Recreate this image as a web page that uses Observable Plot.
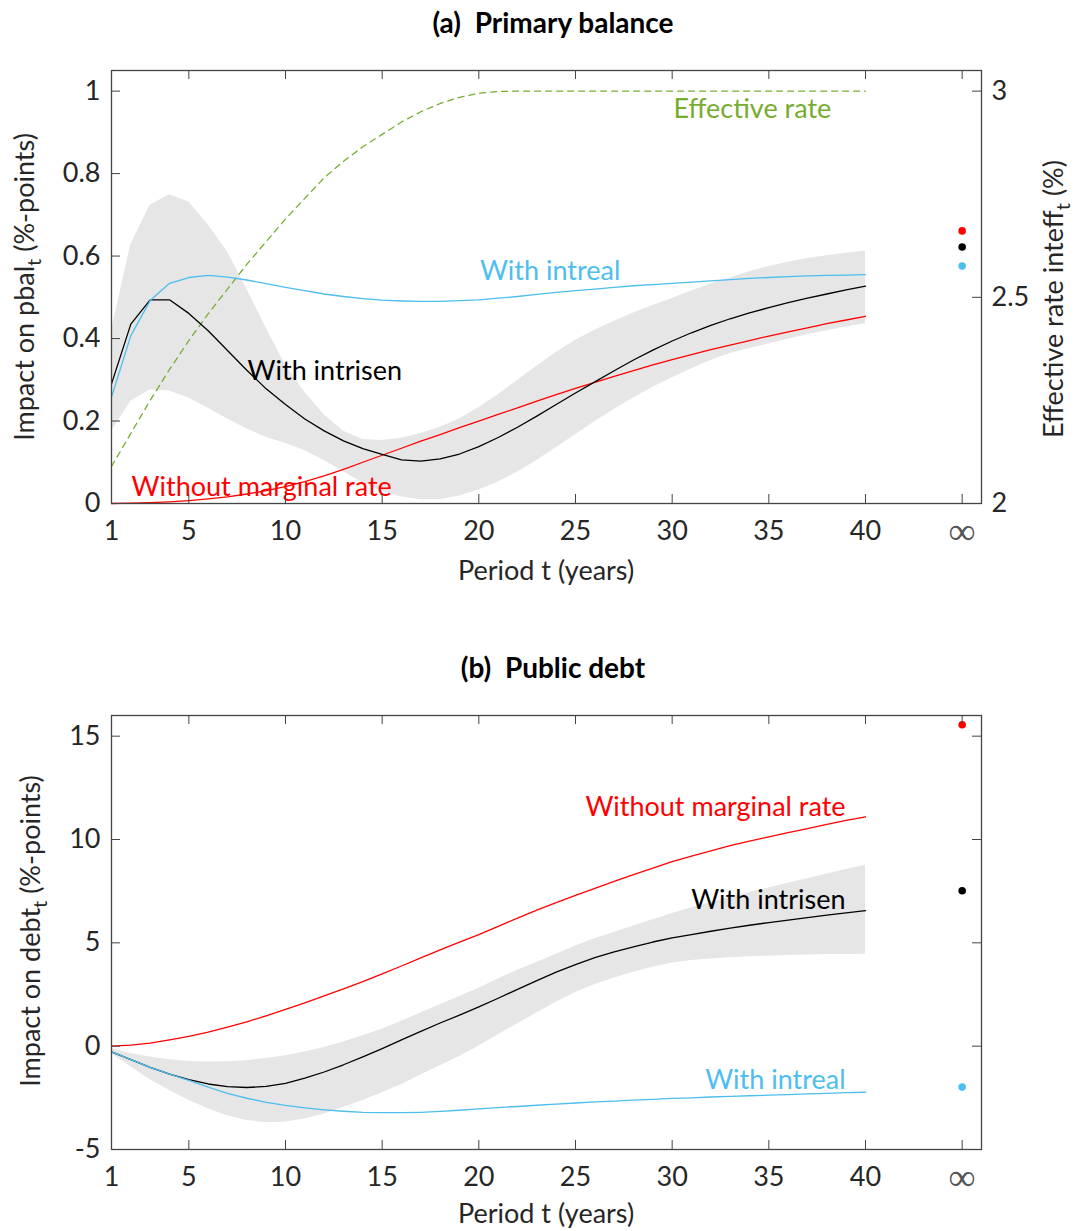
<!DOCTYPE html>
<html><head><meta charset="utf-8">
<script src="https://cdn.jsdelivr.net/npm/d3@7"></script>
<script src="https://cdn.jsdelivr.net/npm/@observablehq/plot@0.6"></script>
<style>
body{margin:0;background:#fff;}
#root{position:relative;width:1081px;height:1231px;overflow:hidden;font-family:Lato,sans-serif;}
.title{position:absolute;left:303px;width:500px;text-align:center;font-weight:bold;font-size:28px;white-space:pre;color:#000;line-height:1;}
.panel{position:absolute;left:0;}
</style></head><body><div id="root"></div><script>
// ---------- data ----------
const periods = d3.range(1, 41);
const infPos = 45;              // x position used for the "∞" column
const xTicks = [1, 5, 10, 15, 20, 25, 30, 35, 40];
const xTickLabels = ["1", "5", "10", "15", "20", "25", "30", "35", "40"];
const infLabel = "∞";

// (a) primary balance
const pbalIntrisen = [0.29,0.435,0.494,0.494,0.461,0.419,0.371,0.323,0.278,0.24,0.205,0.176,0.152,0.133,0.119,0.106,0.103,0.108,0.12,0.138,0.16,0.185,0.212,0.24,0.268,0.295,0.322,0.348,0.372,0.394,0.414,0.432,0.448,0.462,0.475,0.487,0.498,0.508,0.518,0.527];
const pbalNoMarginal = [0,0.001,0.002,0.004,0.007,0.011,0.016,0.023,0.031,0.041,0.053,0.067,0.083,0.1,0.117,0.134,0.151,0.167,0.184,0.2,0.216,0.232,0.248,0.264,0.279,0.294,0.308,0.322,0.336,0.349,0.361,0.373,0.384,0.395,0.406,0.416,0.426,0.436,0.445,0.454];
const pbalIntreal = [0.258,0.407,0.492,0.534,0.548,0.553,0.549,0.542,0.533,0.524,0.516,0.508,0.502,0.497,0.493,0.491,0.49,0.49,0.492,0.494,0.498,0.502,0.507,0.512,0.516,0.52,0.524,0.528,0.531,0.534,0.537,0.54,0.543,0.546,0.548,0.55,0.552,0.553,0.554,0.555];
const pbalLower = [0.175,0.248,0.276,0.273,0.256,0.231,0.205,0.181,0.16,0.146,0.128,0.104,0.077,0.05,0.03,0.016,0.009,0.009,0.018,0.033,0.052,0.076,0.104,0.135,0.167,0.198,0.228,0.256,0.282,0.305,0.327,0.347,0.364,0.376,0.387,0.398,0.409,0.419,0.428,0.436];
const pbalUpper = [0.42,0.628,0.723,0.749,0.731,0.676,0.61,0.52,0.425,0.335,0.27,0.215,0.175,0.155,0.153,0.158,0.17,0.185,0.205,0.232,0.264,0.298,0.333,0.366,0.396,0.42,0.442,0.462,0.48,0.497,0.515,0.532,0.547,0.562,0.575,0.585,0.594,0.601,0.607,0.612];
const effectiveRate = [2.09,2.17,2.25,2.325,2.395,2.46,2.52,2.58,2.635,2.69,2.74,2.79,2.83,2.865,2.895,2.925,2.95,2.97,2.985,2.995,2.999,3,3,3,3,3,3,3,3,3,3,3,3,3,3,3,3,3,3,3];
const pbalInf = [0.661, 0.622, 0.576];     // without marginal, intrisen, intreal
const rateBase = 2;                         // right axis value at left-axis 0
const rightTicksA = [2, 2.5, 3];
const yTicksA = [0, 0.2, 0.4, 0.6, 0.8, 1];

// (b) public debt
const debtIntrisen = [-0.28,-0.65,-1.03,-1.35,-1.62,-1.83,-1.96,-2.0,-1.95,-1.8,-1.55,-1.25,-0.9,-0.52,-0.12,0.3,0.72,1.12,1.5,1.9,2.32,2.75,3.17,3.58,3.95,4.28,4.56,4.81,5.04,5.24,5.4,5.56,5.71,5.85,5.98,6.1,6.22,6.34,6.45,6.56];
const debtNoMarginal = [0,0.05,0.15,0.3,0.47,0.68,0.92,1.18,1.47,1.78,2.1,2.43,2.77,3.12,3.5,3.88,4.27,4.66,5.03,5.4,5.8,6.2,6.58,6.95,7.3,7.64,7.97,8.3,8.62,8.93,9.2,9.45,9.7,9.92,10.13,10.33,10.53,10.73,10.92,11.1];
const debtIntreal = [-0.28,-0.65,-1.03,-1.35,-1.65,-1.98,-2.28,-2.52,-2.72,-2.87,-2.99,-3.08,-3.15,-3.2,-3.22,-3.22,-3.2,-3.16,-3.1,-3.03,-2.97,-2.92,-2.86,-2.8,-2.75,-2.7,-2.66,-2.61,-2.57,-2.53,-2.5,-2.46,-2.43,-2.4,-2.37,-2.34,-2.31,-2.28,-2.25,-2.23];
const debtLower = [-0.37,-1.0,-1.62,-2.15,-2.62,-3.03,-3.37,-3.6,-3.7,-3.67,-3.52,-3.28,-2.97,-2.63,-2.25,-1.85,-1.4,-0.95,-0.5,0.0,0.55,1.08,1.6,2.12,2.6,2.98,3.3,3.58,3.82,4.02,4.14,4.22,4.28,4.33,4.36,4.39,4.41,4.43,4.44,4.45];
const debtUpper = [-0.12,-0.35,-0.53,-0.66,-0.74,-0.77,-0.76,-0.7,-0.6,-0.46,-0.28,-0.06,0.2,0.5,0.82,1.2,1.6,2.0,2.4,2.8,3.25,3.67,4.05,4.45,4.85,5.2,5.5,5.82,6.12,6.42,6.7,6.95,7.2,7.43,7.65,7.88,8.1,8.33,8.55,8.76];
const debtInf = [15.55, 7.52, -1.98];
const yTicksB = [-5, 0, 5, 10, 15];

// series styling / labels
const seriesNames = ["Without marginal rate", "With intrisen", "With intreal"];
const seriesColors = ["#ff0000", "#000000", "#4dbeee"];
const rateColor = "#77ac30";
const bandColor = "#e6e6e6";
const labelsA = [
  {s: "Effective rate", t: 38.23, v: 0.955, c: rateColor, a: "end"},
  {s: "With intreal", t: 20.06, v: 0.563, c: seriesColors[2], a: "start"},
  {s: "With intrisen", t: 8.04, v: 0.32, c: seriesColors[1], a: "start"},
  {s: "Without marginal rate", t: 2.04, v: 0.039, c: seriesColors[0], a: "start"}
];
const labelsB = [
  {s: "Without marginal rate", t: 38.97, v: 11.56, c: seriesColors[0], a: "end"},
  {s: "With intrisen", t: 38.97, v: 7.06, c: seriesColors[1], a: "end"},
  {s: "With intreal", t: 38.97, v: -1.64, c: seriesColors[2], a: "end"}
];

// ---------- layout ----------
const W = 1081, ML = 111, MR = 100, frameW = W - ML - MR;
const tickLen = 9, textCol = "#262626", frameCol = "#444";
const allXTicks = [...xTicks, infPos];
const fmtX = d => xTickLabels[xTicks.indexOf(d)];

function rows(series) {
  return periods.map((t, i) => Object.fromEntries([["t", t], ...Object.entries(series).map(([k, arr]) => [k, arr[i]])]));
}

function panel({height, marginTop, marginBottom, yDomain, yTicks, data, infVals, labels, extra, rightTicks, rightFmt}) {
  const frameH = height - marginTop - marginBottom;
  const infRows = infVals.map((v, i) => ({t: infPos, v, c: seriesColors[i]}));
  return Plot.plot({
    width: W, height, marginLeft: ML, marginRight: MR, marginTop, marginBottom,
    style: {fontFamily: "Lato, sans-serif", fontSize: "27px", color: textCol, background: "#fff"},
    x: {domain: [1, 46]},
    y: {domain: yDomain},
    marks: [
      Plot.areaY(data, {x: "t", y1: "lo", y2: "hi", fill: bandColor}),
      ...extra,
      Plot.lineY(data, {x: "t", y: "nomarg", stroke: seriesColors[0], strokeWidth: 1.3}),
      Plot.lineY(data, {x: "t", y: "intrisen", stroke: seriesColors[1], strokeWidth: 1.3}),
      Plot.lineY(data, {x: "t", y: "intreal", stroke: seriesColors[2], strokeWidth: 1.3}),
      Plot.dot(infRows, {x: "t", y: "v", fill: "c", r: 3.8, stroke: null}),
      Plot.text(labels.filter(d => d.a === "start"), {x: "t", y: "v", text: "s", fill: "c", textAnchor: "start", fontSize: 27}),
      Plot.text(labels.filter(d => d.a === "end"), {x: "t", y: "v", text: "s", fill: "c", textAnchor: "end", fontSize: 27}),
      Plot.frame({stroke: frameCol, strokeWidth: 1.3}),
      Plot.tickX(allXTicks, {x: d => d, insetTop: frameH - tickLen, stroke: frameCol}),
      Plot.tickX(allXTicks, {x: d => d, insetBottom: frameH - tickLen, stroke: frameCol}),
      Plot.tickY(yTicks, {y: d => d, insetRight: frameW - tickLen, stroke: frameCol}),
      Plot.tickY(rightTicks, {y: d => d, insetLeft: frameW - tickLen, stroke: frameCol}),
      Plot.axisX({ticks: xTicks, tickFormat: fmtX, tickSize: 0, tickPadding: 17, label: null, fill: textCol}),
      Plot.axisX({ticks: [infPos], tickFormat: () => infLabel, tickSize: 0, tickPadding: 14, label: null, fill: "#555", fontSize: 38, fontFamily: "Liberation Serif, serif", fontWeight: "normal"}),
      Plot.axisY({ticks: yTicks, tickSize: 0, tickPadding: 11, label: null, fill: textCol, tickFormat: d => String(d)}),
      ...(rightFmt ? [Plot.axisY({anchor: "right", ticks: rightTicks, tickFormat: rightFmt, tickSize: 0, tickPadding: 10, label: null, fill: textCol})] : [])
    ]
  });
}

function addText(svg, x, y, parts, rotate) {
  const t = d3.select(svg).append("text")
    .attr("transform", `translate(${x},${y})` + (rotate ? " rotate(-90)" : ""))
    .attr("text-anchor", "middle").attr("fill", textCol)
    .attr("font-family", "Lato, sans-serif").attr("font-size", 27);
  let shifted = false;
  parts.forEach(p => {
    const ts = t.append("tspan").text(p.s);
    if (p.sub) { ts.attr("font-size", 20).attr("dy", 7); shifted = true; }
    else if (shifted) { ts.attr("dy", -7); shifted = false; }
  });
}

const root = document.getElementById("root");

const dataA = rows({intrisen: pbalIntrisen, nomarg: pbalNoMarginal, intreal: pbalIntreal, lo: pbalLower, hi: pbalUpper, rate: effectiveRate});
const svgA = panel({
  height: 560, marginTop: 25, marginBottom: 102, yDomain: [0, 1.05], yTicks: yTicksA,
  data: dataA, infVals: pbalInf, labels: labelsA,
  extra: [Plot.lineY(dataA, {x: "t", y: d => d.rate - rateBase, stroke: rateColor, strokeWidth: 1.3, strokeDasharray: "6,5"})],
  rightTicks: rightTicksA.map(r => r - rateBase), rightFmt: d => String(+(d + rateBase).toFixed(1))
});
svgA.classList.add("panel"); svgA.style.top = "45px";
addText(svgA, 546, 535, [{s: "Period t (years)"}], false);
addText(svgA, 34, 242, [{s: "Impact on pbal"}, {s: "t", sub: true}, {s: " (%-points)"}], true);
addText(svgA, 1063, 254, [{s: "Effective rate inteff"}, {s: "t", sub: true}, {s: " (%)"}], true);

const dataB = rows({intrisen: debtIntrisen, nomarg: debtNoMarginal, intreal: debtIntreal, lo: debtLower, hi: debtUpper});
const svgB = panel({
  height: 541, marginTop: 25, marginBottom: 82, yDomain: [-5, 16], yTicks: yTicksB,
  data: dataB, infVals: debtInf, labels: labelsB, extra: [],
  rightTicks: yTicksB, rightFmt: null
});
svgB.classList.add("panel"); svgB.style.top = "690px";
addText(svgB, 546, 533, [{s: "Period t (years)"}], false);
addText(svgB, 40, 241, [{s: "Impact on debt"}, {s: "t", sub: true}, {s: " (%-points)"}], true);

const tA = document.createElement("div"); tA.className = "title"; tA.style.top = "8px"; tA.textContent = "(a)  Primary balance";
const tB = document.createElement("div"); tB.className = "title"; tB.style.top = "653px"; tB.textContent = "(b)  Public debt";
root.append(tA, svgA, tB, svgB);
</script></body></html>
